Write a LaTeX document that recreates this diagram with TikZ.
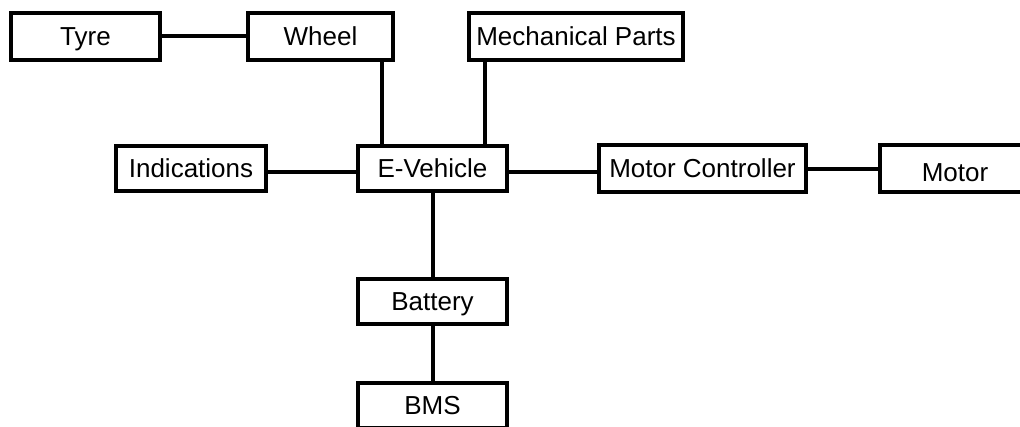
\documentclass[tikz,border=0pt]{standalone}
\usepackage{fontspec}
\setmainfont{Liberation Sans}
\begin{document}
\begin{tikzpicture}[x=1pt,y=-1pt,
  box/.style={draw=black, line width=4pt, fill=white, rectangle, inner sep=0pt,
    minimum height=45pt, font=\fontsize{26}{30}\selectfont,
    text height=18.6pt, text depth=0pt},
  link/.style={draw=black, line width=4pt}]
\useasboundingbox (0,0) rectangle (1020,427);
\clip (0,0) rectangle (1020,427);
\node[box, minimum width=149pt, minimum height=47pt] (Tyre) at (85.5,36.5) {Tyre};
\node[box, minimum width=145pt, minimum height=47pt] (Wheel) at (320.5,36.5) {Wheel};
\node[box, minimum width=214pt, minimum height=47pt] (Mech) at (576,36.5) {Mechanical Parts};
\node[box, minimum width=150pt] (Ind) at (191,168.5) {Indications};
\node[box, minimum width=149pt] (EV) at (432.5,168.5) {E-Vehicle};
\node[box, minimum width=207pt, minimum height=47pt] (MC) at (702.5,168.5) {Motor Controller};
\node[box, minimum width=150pt, minimum height=47pt, text height=26pt] (Motor) at (955,168.5) {Motor};
\node[box, minimum width=149pt] (Bat) at (432.5,301.5) {Battery};
\node[box, minimum width=149pt] (BMS) at (432.5,405.5) {BMS};
\coordinate (wx) at (382,0);
\coordinate (mx) at (485,0);
\coordinate (hy) at (0,172);
\draw[link] (Tyre.east) -- (Wheel.west);
\draw[link] (Wheel.south -| wx) -- (EV.north -| wx);
\draw[link] (Mech.south -| mx) -- (EV.north -| mx);
\draw[link] (Ind.east |- hy) -- (EV.west |- hy);
\draw[link] (EV.east |- hy) -- (MC.west |- hy);
\draw[link] (MC.east |- 0,169) -- (Motor.west |- 0,169);
\draw[link] (EV.south) -- (Bat.north);
\draw[link] (Bat.south) -- (BMS.north);
\end{tikzpicture}
\end{document}
